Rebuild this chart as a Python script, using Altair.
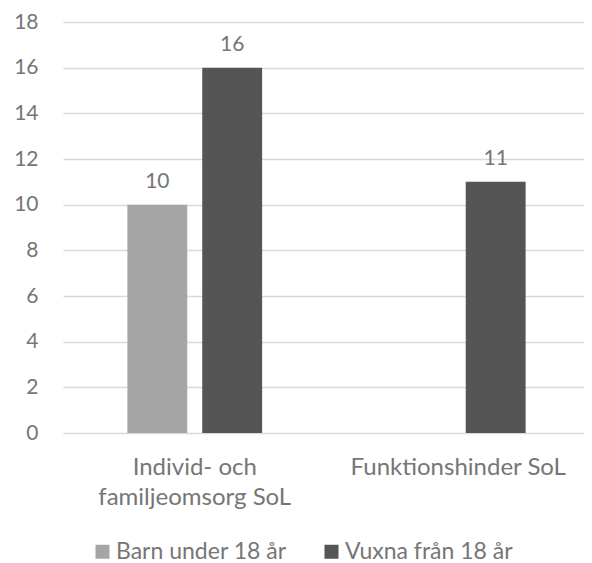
import altair as alt
import pandas as pd

categories = ["Individ- och familjeomsorg SoL", "Individ- och familjeomsorg SoL", "Funktionshinder SoL"]
series = ["Barn under 18 år", "Vuxna från 18 år", "Vuxna från 18 år"]
values = [10, 16, 11]

cat_order = ["Individ- och familjeomsorg SoL", "Funktionshinder SoL"]
ser_order = ["Barn under 18 år", "Vuxna från 18 år"]
colors = ["#A5A5A5", "#555555"]

df = pd.DataFrame({"kategori": categories, "serie": series, "antal": values})

FONT = "Lato"
TXT = "#767676"

x = alt.X("kategori:N", sort=cat_order, title=None,
          scale=alt.Scale(paddingInner=0, paddingOuter=0),
          axis=alt.Axis(labelAngle=0, ticks=False, domain=False, labelFontSize=24,
                        labelColor=TXT, labelFont=FONT, labelPadding=22, labelLineHeight=30,
                        labelLimit=400,
                        labelExpr="datum.label == 'Individ- och familjeomsorg SoL' ? ['Individ- och', 'familjeomsorg SoL'] : datum.label"))
xo = alt.XOffset("serie:N", sort=ser_order, scale=alt.Scale(domain=ser_order, paddingInner=0.2, paddingOuter=0.86))

bars = alt.Chart(df).mark_bar().encode(
    x=x, xOffset=xo,
    y=alt.Y("antal:Q", title=None, scale=alt.Scale(domain=[0, 18]),
            axis=alt.Axis(values=list(range(0, 19, 2)), ticks=False, domain=False,
                          labelFontSize=21, labelColor=TXT, labelFont=FONT, labelPadding=25,
                          gridColor="#D9D9D9", gridWidth=1.3)),
    color=alt.Color("serie:N", sort=ser_order,
                    scale=alt.Scale(domain=ser_order, range=colors),
                    legend=alt.Legend(title=None, orient="none", direction="horizontal",
                                      legendX=28, legendY=518, symbolType="square", symbolSize=196,
                                      labelFontSize=23, labelColor=TXT, labelFont=FONT,
                                      columnPadding=33, labelOffset=2, symbolStrokeWidth=0,
                                      labelLimit=300)),
)

labels = alt.Chart(df).mark_text(baseline="alphabetic", dy=-17, fontSize=21, color=TXT, font=FONT).encode(
    x=alt.X("kategori:N", sort=cat_order), xOffset=xo,
    y="antal:Q", text="antal:Q",
)

chart = (bars + labels).properties(
    width=527, height=411,
    autosize=alt.AutoSizeParams(type="none"),
    padding={"left": 55, "top": 14, "right": -6, "bottom": 130},
).configure_view(stroke=None)

chart.save("out.html", embed_options={"renderer": "svg", "actions": False})
